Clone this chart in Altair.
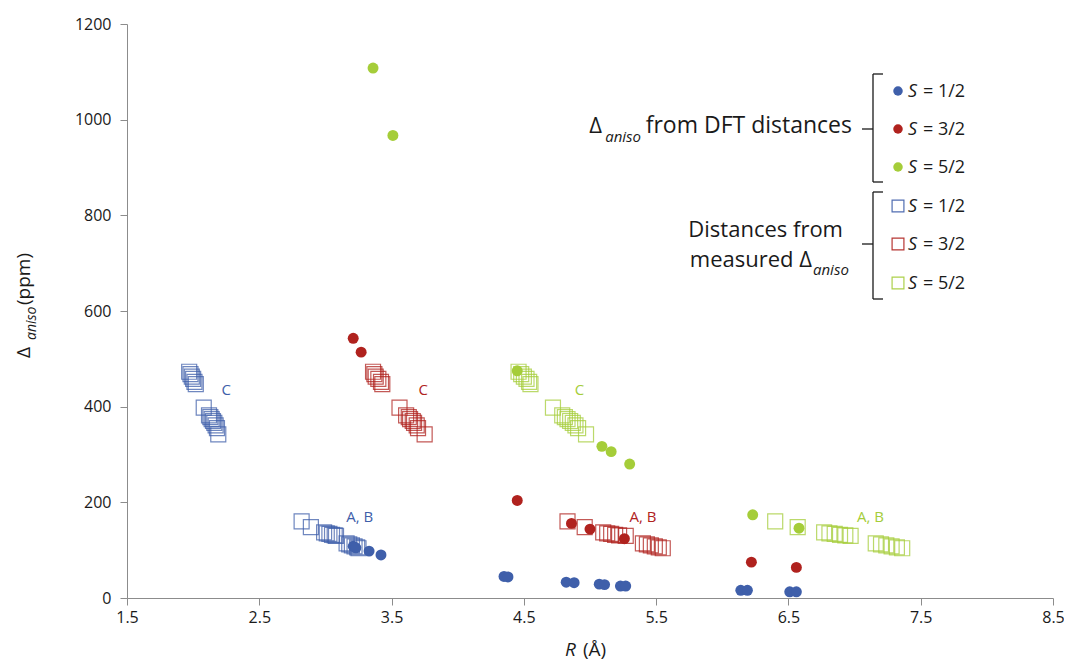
import altair as alt
import pandas as pd

FONT = "Open Sans"
BLUE = "#3F5FAA"
RED = "#B0221E"
GREEN = "#A5CD39"

# ---------- data: filled circles (Delta_aniso from DFT distances) ----------
s12_dft_R = [3.21, 3.23, 3.33, 3.42, 4.35, 4.38, 4.82, 4.88, 5.07, 5.11, 5.23, 5.27, 6.14, 6.19, 6.51, 6.56]
s12_dft_D = [108, 105, 98, 90, 45, 44, 33, 32, 29, 28, 25, 25, 16, 16, 13, 13]
s32_dft_R = [3.21, 3.27, 4.45, 4.86, 5.00, 5.26, 6.22, 6.56]
s32_dft_D = [543, 514, 204, 156, 144, 124, 75, 64]
s52_dft_R = [3.36, 3.51, 4.45, 5.09, 5.16, 5.30, 6.23, 6.58]
s52_dft_D = [1108, 967, 475, 317, 306, 280, 174, 146]

# ---------- data: open squares (distances from measured Delta_aniso) ----------
meas_D = [473, 468, 463, 458, 452, 447,
          398, 382, 378, 374, 370, 366, 361, 355, 342,
          160, 148, 137, 135, 134, 132, 131, 130, 114, 112, 110, 108, 106, 104]
s12_meas_R = [1.97, 1.98, 1.99, 2.00, 2.01, 2.02,
              2.08, 2.12, 2.13, 2.14, 2.15, 2.16, 2.17, 2.18, 2.19,
              2.82, 2.89, 2.99, 3.01, 3.03, 3.05, 3.07, 3.08, 3.16, 3.18, 3.20, 3.22, 3.24, 3.25]
s32_meas_R = [3.36, 3.37, 3.38, 3.40, 3.42, 3.43,
              3.56, 3.61, 3.63, 3.64, 3.66, 3.67, 3.69, 3.70, 3.75,
              4.83, 4.96, 5.10, 5.13, 5.16, 5.19, 5.22, 5.27, 5.40, 5.43, 5.46, 5.49, 5.52, 5.55]
s52_meas_R = [4.46, 4.48, 4.50, 4.52, 4.54, 4.55,
              4.72, 4.79, 4.81, 4.83, 4.85, 4.87, 4.89, 4.91, 4.97,
              6.40, 6.57, 6.77, 6.81, 6.85, 6.89, 6.93, 6.97, 7.16, 7.20, 7.24, 7.28, 7.32, 7.36]

spins = ["S = 1/2", "S = 3/2", "S = 5/2"]
spin_vals = ["= 1/2", "= 3/2", "= 5/2"]
colors = [BLUE, RED, GREEN]
label_colors = ["#3E48A0", RED, "#8DC63F"]

# ---------- cluster annotation labels ----------
lab_text = ["C", "A, B", "C", "A, B", "C", "A, B"]
lab_R = [2.25, 3.26, 3.74, 5.40, 4.92, 7.12]
lab_D = [435, 170, 435, 170, 435, 170]
lab_S = ["S = 1/2", "S = 1/2", "S = 3/2", "S = 3/2", "S = 5/2", "S = 5/2"]

x_ticks = [1.5, 2.5, 3.5, 4.5, 5.5, 6.5, 7.5, 8.5]
y_ticks = [0, 200, 400, 600, 800, 1000, 1200]

dft = pd.DataFrame({
    "R": s12_dft_R + s32_dft_R + s52_dft_R,
    "D": s12_dft_D + s32_dft_D + s52_dft_D,
    "S": [spins[0]] * len(s12_dft_R) + [spins[1]] * len(s32_dft_R) + [spins[2]] * len(s52_dft_R),
})
meas = pd.DataFrame({
    "R": s12_meas_R + s32_meas_R + s52_meas_R,
    "D": meas_D * 3,
    "S": [spins[0]] * len(s12_meas_R) + [spins[1]] * len(s32_meas_R) + [spins[2]] * len(s52_meas_R),
})
labs = pd.DataFrame({"t": lab_text, "R": lab_R, "D": lab_D, "S": lab_S})

xs = alt.X("R:Q", scale=alt.Scale(domain=[1.5, 8.5], nice=False, zero=False),
           axis=alt.Axis(values=x_ticks, format=".1f", title=None, grid=False, labelFlush=False))
ys = alt.Y("D:Q", scale=alt.Scale(domain=[0, 1200], nice=False),
           axis=alt.Axis(values=y_ticks, format="d", title=None, grid=False))
col = alt.Color("S:N", scale=alt.Scale(domain=spins, range=colors), legend=None)
lcol = alt.Color("S:N", scale=alt.Scale(domain=spins, range=label_colors), legend=None)

squares = alt.Chart(meas).mark_point(shape="square", filled=False, size=225,
                                     strokeWidth=1.2, opacity=0.75).encode(x=xs, y=ys, color=col)
circles = alt.Chart(dft).mark_circle(size=120, opacity=1).encode(x=xs, y=ys, color=col)
labels = alt.Chart(labs).mark_text(font=FONT, fontSize=15, align="center", baseline="middle").encode(
    x=xs, y=ys, text="t:N", color=lcol)

one = pd.DataFrame({"k": [0]})


def txt(s, x, y, size, style="normal", align="left", baseline="alphabetic", angle=0):
    kw = dict(text=s, font=FONT, fontSize=size, fontStyle=style, align=align,
              baseline=baseline, color="#1a1a1a")
    if angle:
        kw["angle"] = angle
    return alt.Chart(one).mark_text(**kw).encode(x=alt.value(x), y=alt.value(y))


def rule(x1, y1, x2, y2):
    return alt.Chart(one).mark_rule(color="#1a1a1a", strokeWidth=1.3).encode(
        x=alt.value(x1), y=alt.value(y1), x2=alt.value(x2), y2=alt.value(y2))


layers = [squares, circles, labels]

# legend symbols and texts
sym_x = 771
circ_y = [67, 105, 143]
sq_y = [182, 220, 259]
for i in range(3):
    layers.append(alt.Chart(one).mark_circle(size=90, color=colors[i], opacity=1).encode(
        x=alt.value(sym_x), y=alt.value(circ_y[i])))
    layers.append(alt.Chart(one).mark_point(shape="square", filled=False, size=140, color=colors[i],
                                            strokeWidth=1.2, opacity=0.9).encode(
        x=alt.value(sym_x), y=alt.value(sq_y[i])))
    for yy in (circ_y[i], sq_y[i]):
        layers.append(txt("S", 781, yy + 6, 18, style="italic"))
        layers.append(txt(spin_vals[i], 796, yy + 6, 18))

# brackets
layers += [rule(746, 50, 746, 158), rule(746, 50, 756, 50), rule(746, 158, 756, 158), rule(735, 105, 746, 105),
           rule(746, 168, 746, 275), rule(746, 168, 756, 168), rule(746, 275, 756, 275), rule(735, 220, 746, 220)]

# legend group titles
layers += [txt("from DFT distances", 725, 109, 23, align="right"),
           txt("aniso", 514, 118, 15, style="italic", align="right"),
           txt("\u0394", 475, 109, 22, align="right"),
           txt("Distances from", 716, 213, 22, align="right"),
           txt("measured \u0394", 685, 243, 22, align="right"),
           txt("aniso", 686, 251, 15, style="italic")]

# axis titles
layers += [txt("R", 438, 632, 19, style="italic"),
           txt("(\u00c5)", 456, 632, 19),
           txt("\u0394", -97, 334, 19, angle=270),
           txt("aniso", -91, 316, 14, style="italic", angle=270),
           txt("(ppm)", -97, 281, 19, angle=270)]

chart = alt.layer(*layers).properties(
    width=926, height=574, autosize="none",
    padding={"left": 119, "top": 16, "right": 11, "bottom": 65},
).configure_view(stroke=None).configure_axis(
    domainColor="#8c8c8c", tickColor="#8c8c8c", tickSize=7,
    labelFont=FONT, labelFontSize=16, labelColor="#1a1a1a", labelPadding=4,
).configure_axisY(labelPadding=9)

chart.save("out.html", embed_options={"renderer": "svg", "actions": False})
